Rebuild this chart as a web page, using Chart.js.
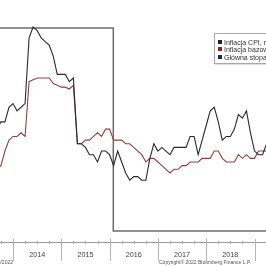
<!DOCTYPE html>
<html><head><meta charset="utf-8">
<script src="https://cdn.jsdelivr.net/npm/chart.js@4.4.0/dist/chart.umd.min.js"></script>
<style>
html,body{margin:0;padding:0;background:#fff;overflow:hidden;width:266px;height:266px;}
#wrap{position:relative;width:266px;height:266px;overflow:hidden;font-family:"Liberation Sans",Arial,sans-serif;}
canvas{position:absolute;left:0;top:0;}
.yl{position:absolute;top:251px;font-size:7.2px;line-height:8px;color:#444;transform:translateX(-50%);white-space:nowrap;}
#legend{position:absolute;left:214px;top:33px;width:90px;height:29px;border:1px solid #a8a8a8;background:#fff;box-shadow:1px 1px 1px rgba(0,0,0,0.12);}
.li{position:absolute;left:3px;height:8px;line-height:8px;font-size:7px;color:#333;white-space:nowrap;}
.sw{display:inline-block;width:4px;height:4px;margin-right:2px;vertical-align:middle;position:relative;top:-1px;}
#copy{position:absolute;left:205px;top:259px;font-size:5px;line-height:6px;color:#555;transform:translateX(-50%);white-space:nowrap;}
#date{position:absolute;right:253px;top:259px;font-size:5px;line-height:6px;color:#555;white-space:nowrap;}
</style></head>
<body><div id="wrap"><canvas id="c" width="266" height="266"></canvas>
<div id="legend"></div>
<div id="copy">Copyright© 2022 Bloomberg Finance L.P.</div>
<div id="date">22/09/2022</div>
</div>
<script>
// monthly observations (end of month)
const months = [
 "2013-08","2013-09","2013-10","2013-11","2013-12",
 "2014-01","2014-02","2014-03","2014-04","2014-05","2014-06","2014-07","2014-08","2014-09","2014-10","2014-11","2014-12",
 "2015-01","2015-02","2015-03","2015-04","2015-05","2015-06","2015-07","2015-08","2015-09","2015-10","2015-11","2015-12",
 "2016-01","2016-02","2016-03","2016-04","2016-05","2016-06","2016-07","2016-08","2016-09","2016-10","2016-11","2016-12",
 "2017-01","2017-02","2017-03","2017-04","2017-05","2017-06","2017-07","2017-08","2017-09","2017-10","2017-11","2017-12",
 "2018-01","2018-02","2018-03","2018-04","2018-05","2018-06","2018-07","2018-08","2018-09","2018-10","2018-11","2018-12",
 "2019-01","2019-02","2019-03","2019-04"
];
const cpi = [
 0.9,1.1,1.1,1.5,1.6,
 1.4,1.5,1.6,3.4,3.7,3.6,3.4,3.3,3.2,2.9,2.4,2.4,
 2.4,2.2,2.3,0.5,0.5,0.4,0.2,0.2,0.0,0.3,0.3,0.2,
 -0.1,0.3,0.0,-0.3,-0.5,-0.4,-0.4,-0.5,-0.5,0.1,0.5,0.3,
 0.4,0.3,0.2,0.4,0.4,0.4,0.4,0.7,0.7,0.2,0.6,1.0,
 1.4,1.5,1.1,0.6,0.7,0.7,0.9,1.3,1.2,1.4,0.8,0.3,
 0.2,0.2,0.5,0.9
];
const core = [
 -0.2,-0.1,0.3,0.6,0.7,
 0.7,0.8,0.7,2.2,2.25,2.3,2.3,2.3,2.3,2.15,2.1,2.05,
 2.05,2.0,2.1,0.5,0.5,0.6,0.6,0.7,0.8,0.7,0.9,0.9,
 0.6,0.6,0.6,0.5,0.5,0.4,0.3,0.2,0.0,0.1,0.1,0.0,
 -0.1,-0.2,-0.3,-0.2,-0.2,-0.1,-0.1,0.0,0.0,0.0,0.1,0.1,
 0.1,0.3,0.3,0.1,0.0,0.0,0.0,0.2,0.1,0.2,0.1,0.1,
 0.3,0.3,0.3,0.4
];
// policy rate changes (date, level)
const rateDates = ["2013-08-01","2016-01-29","2019-05-01"];
const rateValues = [0.1,-0.1,-0.1];
const yearLabels = ["2014","2015","2016","2017","2018"];
const legendLabels = ["Inflacja CPI, r/r (%)","Inflacja bazowa, r/r (%)","Główna stopa procentowa (%)"];
const legendColors = ["#1b2430","#8e1f1f","#1d2a48"];

function monthEnd(s){const [y,m]=s.split("-").map(Number);return y+m/12;}
function dayPos(s){const [y,m,d]=s.split("-").map(Number);return y+(m-1)/12+(d-1)/365;}

const cpiPts = months.map((m,i)=>({x:monthEnd(m),y:cpi[i]}));
const corePts = months.map((m,i)=>({x:monthEnd(m),y:core[i]}));
const ratePts = rateDates.map((d,i)=>({x:dayPos(d),y:rateValues[i]}));

const axisPlugin = {
  id:'axisDraw',
  afterDraw(chart){
    const ctx=chart.ctx, xs=chart.scales.x, b=chart.chartArea.bottom;
    ctx.save();
    ctx.lineWidth=1;
    ctx.strokeStyle='#9a9a9a';
    ctx.beginPath();ctx.moveTo(0,b+0.5);ctx.lineTo(266,b+0.5);ctx.stroke();
    ctx.strokeStyle='#b4b4b4';
    for(let y=2013;y<=2020;y++){
      const px=Math.round(xs.getPixelForValue(y))+0.5;
      ctx.beginPath();ctx.moveTo(px,b-3);ctx.lineTo(px,b+19);ctx.stroke();
      for(let q=1;q<4;q++){
        const qx=Math.round(xs.getPixelForValue(y+q/4))+0.5;
        ctx.beginPath();ctx.moveTo(qx,b-1);ctx.lineTo(qx,b+2);ctx.stroke();
      }
    }
    ctx.restore();
  }
};

const chart = new Chart(document.getElementById('c'),{
  type:'line',
  data:{datasets:[
    {label:legendLabels[0],data:cpiPts,borderColor:'#2a2a2e',borderWidth:1.1,pointRadius:0,tension:0,yAxisID:'y'},
    {label:legendLabels[1],data:corePts,borderColor:'#93403c',borderWidth:1.1,pointRadius:0,tension:0,yAxisID:'y'},
    {label:legendLabels[2],data:ratePts,borderColor:'#6c6c6c',borderWidth:1.5,pointRadius:0,stepped:true,yAxisID:'y2'}
  ]},
  options:{
    responsive:false,animation:false,devicePixelRatio:1,
    layout:{padding:{left:0,right:0,top:0,bottom:24}},
    plugins:{legend:{display:false},tooltip:{enabled:false}},
    scales:{
      x:{type:'linear',min:2013.731,max:2019.238,display:false},
      y:{type:'linear',min:-2.192,max:4.438,display:false},
      y2:{type:'linear',min:-0.1108,max:0.1276,display:false}
    }
  },
  plugins:[axisPlugin]
});

const wrap=document.getElementById('wrap');
yearLabels.forEach(l=>{
  const s=document.createElement('div');s.className='yl';s.textContent=l;
  s.style.left=chart.scales.x.getPixelForValue(Number(l)+0.5)+'px';
  wrap.appendChild(s);
});
const lg=document.getElementById('legend');
legendLabels.forEach((l,i)=>{
  const r=document.createElement('div');r.className='li';r.style.top=(4.5+i*7.5)+'px';
  r.innerHTML='<span class="sw" style="background:'+legendColors[i]+'"></span>'+l;
  lg.appendChild(r);
});
</script></body></html>
